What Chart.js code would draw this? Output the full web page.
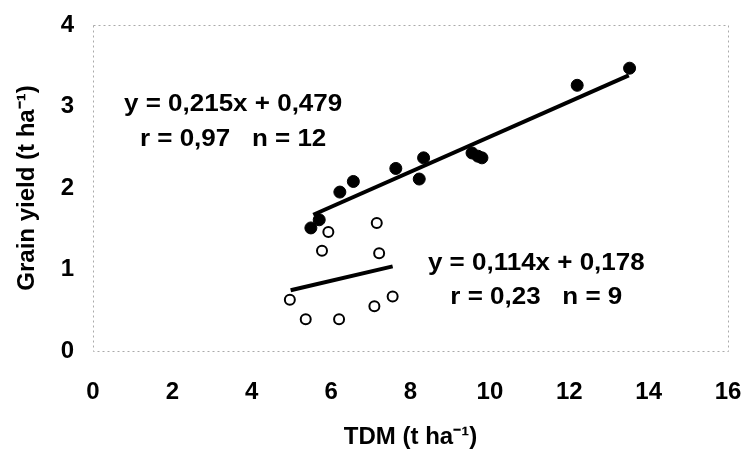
<!doctype html>
<html>

<head>
	<title>Grain yield vs TDM</title>
	<script src="https://cdn.jsdelivr.net/npm/chart.js@4/dist/chart.umd.min.js"></script>
	<style>
		html, body {
			margin: 0;
			padding: 0;
			background: #fff;
		}
		.chart-container {
			width: 747px;
			height: 458px;
		}
	</style>
</head>

<body>
	<div class="chart-container"><canvas id="chart"></canvas></div>
	<script>
		// filled circles
		var filledX = [5.49, 5.70, 6.22, 6.56, 7.63, 8.22, 8.33, 9.55, 9.70, 9.80, 12.20, 13.52];
		var filledY = [1.51, 1.61, 1.95, 2.08, 2.24, 2.11, 2.37, 2.43, 2.39, 2.37, 3.26, 3.47];
		// open circles
		var openX = [4.96, 5.36, 5.77, 5.93, 6.20, 7.09, 7.15, 7.21, 7.55];
		var openY = [0.63, 0.39, 1.23, 1.46, 0.39, 0.55, 1.57, 1.20, 0.67];

		// regression lines: [slope, intercept], [r, n], x range
		var fitFilled = [0.215, 0.479];
		var statFilled = [0.97, 12];
		var rangeFilled = [5.55, 13.5];
		var fitOpen = [0.114, 0.178];
		var statOpen = [0.23, 9];
		var rangeOpen = [4.98, 7.55];

		var xTicks = [0, 2, 4, 6, 8, 10, 12, 14, 16];
		var yTicks = [0, 1, 2, 3, 4];

		var FONT = "'Liberation Sans', Arial, sans-serif";

		function pts(xs, ys) {
			return xs.map(function(x, i) { return {x: x, y: ys[i]}; });
		}

		function fitLine(fit, range) {
			return range.map(function(x) { return {x: x, y: fit[0] * x + fit[1]}; });
		}

		function dec(v) {
			return v.toFixed(3).replace(/0+$/, '').replace('.', ',');
		}

		function eqText(fit) {
			return 'y = ' + dec(fit[0]) + 'x + ' + dec(fit[1]);
		}

		function statText(stat) {
			return 'r = ' + stat[0].toFixed(2).replace('.', ',') + '   n = ' + stat[1];
		}

		// equation labels anchored in data units
		var notes = [
			{x: 3.53, y: 3.02, text: eqText(fitFilled)},
			{x: 3.53, y: 2.59, text: statText(statFilled)},
			{x: 11.17, y: 1.07, text: eqText(fitOpen)},
			{x: 11.17, y: 0.66, text: statText(statOpen)}
		];

		// keep tick labels from pushing the plot area inwards
		function noOverflow(scale) {
			scale.paddingLeft = 0;
			scale.paddingRight = 0;
			scale.paddingTop = 0;
			scale.paddingBottom = 0;
		}

		var frame = {
			id: 'frame',
			beforeDatasetsDraw: function(chart) {
				var a = chart.chartArea;
				var ctx = chart.ctx;
				ctx.save();
				ctx.strokeStyle = '#aaa';
				ctx.lineWidth = 1;
				ctx.setLineDash([2, 3]);
				ctx.strokeRect(a.left + 0.5, a.top + 0.5, a.right - a.left, a.bottom - a.top);
				ctx.restore();
			},
			afterDatasetsDraw: function(chart) {
				var ctx = chart.ctx;
				var xs = chart.scales.x, ys = chart.scales.y;
				ctx.save();
				ctx.fillStyle = '#000';
				ctx.font = 'bold 23px ' + FONT;
				ctx.textAlign = 'center';
				ctx.textBaseline = 'middle';
				notes.forEach(function(n) {
					ctx.save();
					// slightly wide lettering
					ctx.translate(xs.getPixelForValue(n.x), ys.getPixelForValue(n.y));
					ctx.scale(1.13, 1);
					ctx.fillText(n.text, 0, 0);
					ctx.restore();
				});
				ctx.restore();
			}
		};

		var ctx = document.getElementById('chart').getContext('2d');
		new Chart(ctx, {
			type: 'scatter',
			data: {
				datasets: [{
					data: pts(filledX, filledY),
					backgroundColor: '#000',
					borderColor: '#000',
					pointRadius: 6,
					pointHoverRadius: 6
				}, {
					data: pts(openX, openY),
					backgroundColor: '#fff',
					borderColor: '#000',
					borderWidth: 2,
					pointRadius: 5,
					pointHoverRadius: 5
				}, {
					type: 'line',
					data: fitLine(fitFilled, rangeFilled),
					borderColor: '#000',
					borderWidth: 4,
					pointRadius: 0,
					fill: false
				}, {
					type: 'line',
					data: fitLine(fitOpen, rangeOpen),
					borderColor: '#000',
					borderWidth: 4,
					pointRadius: 0,
					fill: false
				}]
			},
			options: {
				responsive: true,
				maintainAspectRatio: false,
				animation: false,
				layout: {
					padding: {top: 25, right: 19, left: 0, bottom: 0}
				},
				plugins: {
					legend: {display: false},
					tooltip: {enabled: false}
				},
				scales: {
					x: {
						type: 'linear',
						min: 0,
						max: 16,
						afterBuildTicks: function(scale) {
							scale.ticks = xTicks.map(function(v) { return {value: v}; });
						},
						afterFit: function(scale) {
							scale.height = 107;
							noOverflow(scale);
						},
						grid: {display: false, drawTicks: false},
						border: {display: false},
						ticks: {
							color: '#000',
							padding: 27,
							maxRotation: 0,
							font: {family: FONT, size: 24, weight: 'bold'}
						},
						title: {
							display: true,
							text: 'TDM (t ha\u207B\u00B9)',
							color: '#000',
							padding: {top: 10, bottom: 6},
							font: {family: FONT, size: 24, weight: 'bold'}
						}
					},
					y: {
						type: 'linear',
						min: 0,
						max: 4,
						afterBuildTicks: function(scale) {
							scale.ticks = yTicks.map(function(v) { return {value: v}; });
						},
						afterFit: function(scale) {
							scale.width = 93;
							noOverflow(scale);
						},
						grid: {display: false, drawTicks: false},
						border: {display: false},
						ticks: {
							color: '#000',
							padding: 19,
							font: {family: FONT, size: 24, weight: 'bold'}
						},
						title: {
							display: true,
							text: 'Grain yield (t ha\u207B\u00B9)',
							color: '#000',
							padding: {top: 13},
							font: {family: FONT, size: 24, weight: 'bold'}
						}
					}
				}
			},
			plugins: [frame]
		});
	</script>
</body>

</html>
